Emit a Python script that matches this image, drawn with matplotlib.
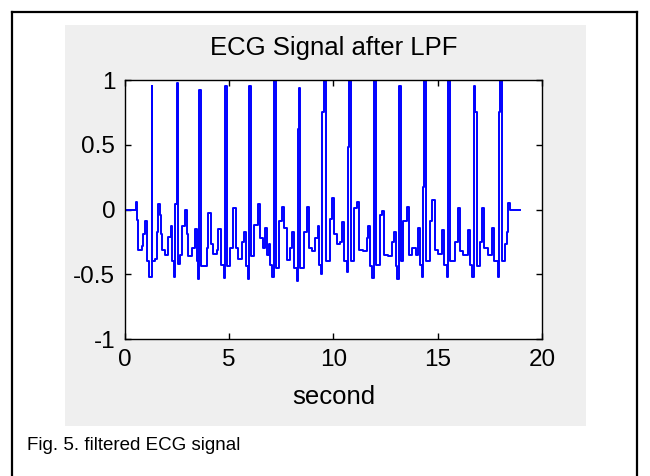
import matplotlib
matplotlib.use('Agg')
import matplotlib.pyplot as plt
from matplotlib.patches import Rectangle
from matplotlib.lines import Line2D

plt.rcParams['font.family'] = ['Liberation Sans', 'DejaVu Sans']

# ECG samples (time in s, amplitude), drawn as a staircase
t_sec = [
    0.00, 0.53, 0.56, 0.61, 0.80, 0.88, 0.96, 1.06, 1.17, 1.28, 1.31, 1.44, 1.52, 1.60, 1.68, 1.73, 1.79, 1.92,
    2.08, 2.21, 2.27, 2.37, 2.41, 2.48, 2.53, 2.64, 2.75, 2.88, 2.96, 3.04, 3.20,
    3.36, 3.44, 3.52, 3.55, 3.63, 3.92, 3.99, 4.12, 4.24, 4.40, 4.48, 4.60,
    4.76, 4.78, 4.81, 4.88, 5.04, 5.20, 5.31, 5.44, 5.60, 5.71, 5.79,
    5.88, 5.96, 6.04, 6.20, 6.36, 6.47, 6.63, 6.72, 6.79, 6.91, 6.96,
    7.03, 7.16, 7.23, 7.39, 7.55, 7.64, 7.75, 7.91, 7.99, 8.12,
    8.23, 8.28, 8.33, 8.39, 8.60, 8.71, 8.83, 8.95, 9.11, 9.24, 9.31,
    9.40, 9.47, 9.53, 9.62, 9.83, 9.91, 10.04, 10.15, 10.31, 10.39, 10.52,
    10.63, 10.68, 10.74, 10.84, 11.00, 11.11, 11.22, 11.43, 11.59, 11.67, 11.75,
    11.83, 11.94, 12.02, 12.23, 12.31, 12.44, 12.63, 12.79, 12.92, 12.98,
    13.03, 13.14, 13.24, 13.35, 13.51, 13.62, 13.78, 13.94, 14.04, 14.15,
    14.23, 14.29, 14.34, 14.42, 14.63, 14.74, 14.87, 15.03, 15.19, 15.32,
    15.43, 15.48, 15.51, 15.59, 15.83, 15.96, 16.07, 16.23, 16.43, 16.55,
    16.63, 16.74, 16.79, 16.87, 17.03, 17.14, 17.23, 17.43, 17.59, 17.71,
    17.87, 17.94, 17.99, 18.07, 18.23, 18.31, 18.39, 18.45, 18.95,
]
ecg = [
    0.00, 0.06, -0.08, -0.31, -0.28, -0.19, -0.09, -0.40, -0.52, 0.95, -0.40, -0.38, -0.17, 0.04, -0.04, -0.19, -0.31, -0.35,
    -0.21, -0.13, -0.40, -0.52, 0.04, 0.98, -0.42, -0.35, -0.13, 0.00, -0.19, -0.36, -0.30,
    -0.15, -0.40, -0.54, 0.92, -0.44, -0.30, -0.03, -0.27, -0.34, -0.31, -0.15, -0.43,
    -0.53, 0.60, 0.95, -0.44, -0.30, 0.01, -0.30, -0.38, -0.25, -0.17, -0.44,
    -0.54, 0.95, -0.36, -0.12, 0.04, -0.22, -0.30, -0.14, -0.35, -0.27, -0.43,
    -0.52, 1.00, -0.45, -0.09, 0.02, -0.14, -0.39, -0.30, -0.17, -0.45,
    -0.55, 0.62, 0.94, -0.45, -0.17, 0.02, -0.30, -0.32, -0.22, -0.13, -0.43,
    -0.50, 0.75, 0.99, -0.40, -0.07, 0.09, -0.19, -0.27, -0.25, -0.10, -0.40,
    -0.48, 0.48, 1.00, -0.40, 0.01, 0.06, -0.31, -0.32, -0.22, -0.13, -0.44,
    -0.53, 1.00, -0.43, -0.04, -0.01, -0.35, -0.36, -0.25, -0.17, -0.44,
    -0.54, 0.95, -0.40, -0.09, 0.02, -0.35, -0.30, -0.35, -0.14, -0.43,
    -0.52, 0.17, 1.00, -0.40, -0.09, 0.07, -0.31, -0.34, -0.16, -0.43,
    -0.52, 0.90, 1.00, -0.40, -0.25, 0.01, -0.32, -0.35, -0.16, -0.43,
    -0.52, 0.95, 0.75, -0.44, -0.25, 0.01, -0.30, -0.35, -0.14, -0.40,
    -0.52, 0.75, 1.00, -0.40, -0.27, -0.17, 0.05, 0.00, 0.00,
]
x_ticks = [0, 5, 10, 15, 20]
y_ticks = [-1, -0.5, 0, 0.5, 1]

fig = plt.figure(figsize=(6.5, 4.76), dpi=100)
fig.patch.set_facecolor('white')

# gray MATLAB figure area
fig.add_artist(Rectangle((0.1, 0.105), 0.8015, 0.8425, transform=fig.transFigure,
                         facecolor='#efefef', edgecolor='none', zorder=0))
# outer frame of the paper figure (open at the bottom)
for xs, ys in [([0.0185, 0.0185], [0.0, 0.975]), ([0.0185, 0.98], [0.975, 0.975]), ([0.98, 0.98], [0.975, 0.0])]:
    fig.add_artist(Line2D(xs, ys, transform=fig.transFigure, color='black', lw=1.6))

ax = fig.add_axes([0.1923, 0.2878, 0.6415, 0.5441])
ax.set_facecolor('white')
ax.plot(t_sec, ecg, color='#0000ff', lw=1.4, drawstyle='steps-post')
ax.set_xlim(0, 20)
ax.set_ylim(-1, 1)
ax.set_xticks(x_ticks)
ax.set_yticks(y_ticks)
ax.set_xticklabels([str(v) for v in x_ticks])
ax.set_yticklabels(['-1', '-0.5', '0', '0.5', '1'])
ax.tick_params(direction='in', length=4, width=1, top=True, right=True,
               labelsize=17.5, colors='black', pad=7)
for s in ax.spines.values():
    s.set_linewidth(1.0)
ax.set_xlabel('second', fontsize=18.5, labelpad=10)
ax.set_title('ECG Signal after LPF', fontsize=18.5, pad=18)

fig.text(0.0415, 0.065, 'Fig. 5. filtered ECG signal', fontsize=13.5, va='center', ha='left')

fig.savefig('out.png', dpi=100)
